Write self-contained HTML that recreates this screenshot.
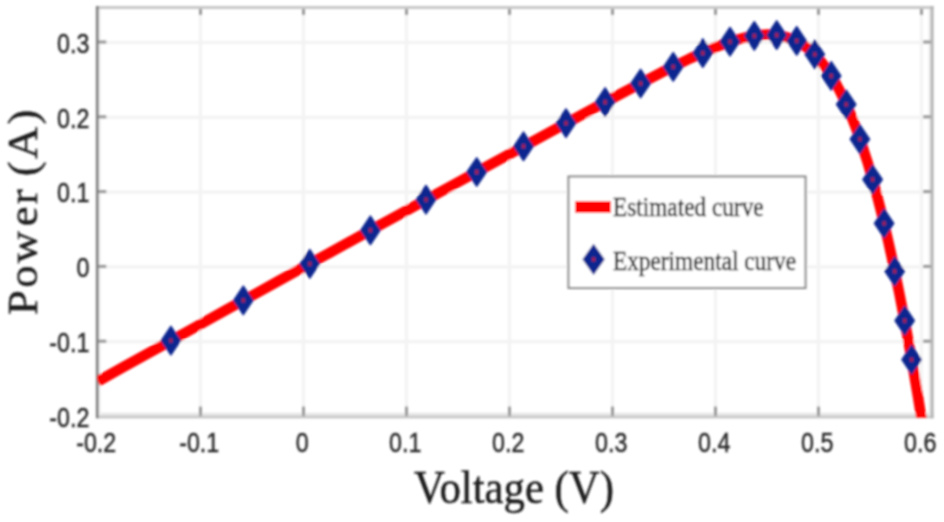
<!DOCTYPE html>
<html><head><meta charset="utf-8"><title>Power-Voltage curve</title>
<style>
html,body{margin:0;padding:0;background:#fff;}
body{width:944px;height:522px;overflow:hidden;position:relative;font-family:"Liberation Sans",sans-serif;}
svg{position:absolute;left:0;top:0;display:block;}
.tk{font-family:"Liberation Sans",sans-serif;font-size:23.3px;fill:#262626;stroke:#262626;stroke-width:0.35px;}
.ax{font-family:"Liberation Serif",serif;font-size:42.8px;fill:#1c1c1c;stroke:#1c1c1c;stroke-width:0.4px;}
.lg{font-family:"Liberation Serif",serif;font-size:23.3px;fill:#141414;stroke:#141414;stroke-width:0.35px;}
</style></head><body>
<svg width="944" height="522" viewBox="0 0 944 522">
<defs><clipPath id="cp"><rect x="97.3" y="7.5" width="834.8" height="410.5"/></clipPath>
<filter id="bl" x="-5%" y="-5%" width="110%" height="110%"><feGaussianBlur stdDeviation="0.8"/></filter></defs>
<rect x="0" y="0" width="944" height="522" fill="#ffffff"/>
<g filter="url(#bl)">

<g stroke="#f3f3f3" stroke-width="3.2" fill="none">
<line x1="200.5" y1="7.5" x2="200.5" y2="416.0"/>
<line x1="303.5" y1="7.5" x2="303.5" y2="416.0"/>
<line x1="406.5" y1="7.5" x2="406.5" y2="416.0"/>
<line x1="509.5" y1="7.5" x2="509.5" y2="416.0"/>
<line x1="612.5" y1="7.5" x2="612.5" y2="416.0"/>
<line x1="715.5" y1="7.5" x2="715.5" y2="416.0"/>
<line x1="818.5" y1="7.5" x2="818.5" y2="416.0"/>
<line x1="921.5" y1="7.5" x2="921.5" y2="416.0"/>
<line x1="97.3" y1="341.7" x2="932.1" y2="341.7"/>
<line x1="97.3" y1="266.9" x2="932.1" y2="266.9"/>
<line x1="97.3" y1="192.1" x2="932.1" y2="192.1"/>
<line x1="97.3" y1="117.3" x2="932.1" y2="117.3"/>
<line x1="97.3" y1="42.5" x2="932.1" y2="42.5"/>
</g>
<rect x="97.3" y="412.8" width="836.3000000000001" height="3.4" fill="#e6e6e6"/>
<rect x="98.7" y="7.5" width="2" height="408.5" fill="#f0f0f0"/>
<rect x="928.6" y="7.5" width="2.2" height="408.5" fill="#ececec"/>
<g stroke="#989898" stroke-width="3">
<line x1="200.5" y1="416.0" x2="200.5" y2="406.5"/>
<line x1="200.5" y1="7.5" x2="200.5" y2="15.0"/>
<line x1="303.5" y1="416.0" x2="303.5" y2="406.5"/>
<line x1="303.5" y1="7.5" x2="303.5" y2="15.0"/>
<line x1="406.5" y1="416.0" x2="406.5" y2="406.5"/>
<line x1="406.5" y1="7.5" x2="406.5" y2="15.0"/>
<line x1="509.5" y1="416.0" x2="509.5" y2="406.5"/>
<line x1="509.5" y1="7.5" x2="509.5" y2="15.0"/>
<line x1="612.5" y1="416.0" x2="612.5" y2="406.5"/>
<line x1="612.5" y1="7.5" x2="612.5" y2="15.0"/>
<line x1="715.5" y1="416.0" x2="715.5" y2="406.5"/>
<line x1="715.5" y1="7.5" x2="715.5" y2="15.0"/>
<line x1="818.5" y1="416.0" x2="818.5" y2="406.5"/>
<line x1="818.5" y1="7.5" x2="818.5" y2="15.0"/>
<line x1="921.5" y1="416.0" x2="921.5" y2="406.5"/>
<line x1="921.5" y1="7.5" x2="921.5" y2="15.0"/>
<line x1="97.3" y1="341.2" x2="106.3" y2="341.2"/>
<line x1="932.1" y1="341.2" x2="923.1" y2="341.2"/>
<line x1="97.3" y1="266.4" x2="106.3" y2="266.4"/>
<line x1="932.1" y1="266.4" x2="923.1" y2="266.4"/>
<line x1="97.3" y1="191.6" x2="106.3" y2="191.6"/>
<line x1="932.1" y1="191.6" x2="923.1" y2="191.6"/>
<line x1="97.3" y1="116.8" x2="106.3" y2="116.8"/>
<line x1="932.1" y1="116.8" x2="923.1" y2="116.8"/>
<line x1="97.3" y1="42.0" x2="106.3" y2="42.0"/>
<line x1="932.1" y1="42.0" x2="923.1" y2="42.0"/>
</g>
<rect x="95.89999999999999" y="415.9" width="837.7" height="2.4" fill="#c4c4c4"/>
<line x1="95.89999999999999" y1="7.5" x2="933.6" y2="7.5" stroke="#c8c8c8" stroke-width="3"/>
<line x1="932.1" y1="6.0" x2="932.1" y2="418.2" stroke="#b4b4b4" stroke-width="3"/>
<line x1="97.3" y1="6.0" x2="97.3" y2="418.2" stroke="#808080" stroke-width="2.8"/>
<g clip-path="url(#cp)"><g transform="translate(0.4,0.6)"><path d="M97.5,380.7 L123.2,366.3 L149.0,352.0 L174.8,337.7 L200.5,323.4 L226.2,309.1 L252.0,294.9 L277.8,280.6 L303.5,266.4 L329.2,252.2 L355.0,238.0 L380.8,223.8 L406.5,209.7 L432.3,195.5 L458.0,181.4 L483.8,167.3 L509.5,153.2 L535.3,139.2 L561.0,125.2 L586.8,111.2 L612.5,97.4 L638.3,83.7 L664.0,70.4 L689.8,57.8 L715.5,46.5 L717.3,45.8 L719.1,45.1 L721.0,44.4 L722.8,43.7 L724.6,43.0 L726.4,42.4 L728.2,41.8 L730.0,41.2 L731.9,40.6 L733.7,40.0 L735.5,39.4 L737.3,38.9 L739.1,38.4 L740.9,37.9 L742.8,37.4 L744.6,37.0 L746.4,36.6 L748.2,36.2 L750.0,35.8 L751.9,35.5 L753.7,35.2 L755.5,34.9 L757.3,34.7 L759.1,34.5 L760.9,34.3 L762.8,34.2 L764.6,34.1 L766.4,34.0 L768.2,34.0 L770.0,34.1 L771.8,34.2 L773.7,34.3 L775.5,34.5 L777.3,34.7 L779.1,35.0 L780.9,35.3 L782.8,35.7 L784.6,36.2 L786.4,36.7 L788.2,37.3 L790.0,37.9 L791.8,38.6 L793.7,39.4 L795.5,40.3 L797.3,41.2 L799.1,42.2 L800.9,43.3 L802.7,44.5 L804.6,45.7 L806.4,47.1 L808.2,48.5 L810.0,50.1 L811.8,51.7 L813.7,53.4 L815.5,55.3 L817.3,57.2 L819.1,59.3 L820.9,61.4 L822.7,63.7 L824.6,66.1 L826.4,68.6 L828.2,71.2 L830.0,74.0 L831.8,76.9 L833.6,79.9 L835.5,83.0 L837.3,86.3 L839.1,89.7 L840.9,93.3 L842.7,97.0 L844.6,100.8 L846.4,104.8 L848.2,109.0 L850.0,113.3 L851.8,117.8 L853.6,122.4 L855.5,127.1 L857.3,132.1 L859.1,137.2 L860.9,142.4 L862.7,147.9 L864.5,153.5 L866.4,159.2 L868.2,165.2 L870.0,171.3 L871.8,177.6 L873.6,184.1 L875.5,190.7 L877.3,197.5 L879.1,204.5 L880.9,211.7 L882.7,219.1 L884.5,226.6 L886.4,234.4 L888.2,242.3 L890.0,250.4 L891.8,258.7 L893.6,267.2 L895.4,275.8 L897.3,284.7 L899.1,293.7 L900.9,302.9 L902.7,312.3 L904.5,321.9 L906.4,331.7 L908.2,341.7 L910.0,351.9 L911.8,362.2 L913.6,372.7 L915.4,383.5 L917.3,394.4 L919.1,405.5 L920.9,416.7 L922.7,428.2 L924.5,439.9 L926.3,451.7" fill="none" stroke="#ff0000" stroke-width="10.5" stroke-linejoin="round"/>
<path d="M170.5,325.8 L180.1,340.0 L170.5,354.2 L160.9,340.0 Z" fill="#10268f" stroke="#10268f" stroke-width="1.5" stroke-linejoin="round"/><rect x="169.0" y="338.0" width="3" height="4" fill="#a8204c"/>
<path d="M242.9,285.6 L252.5,299.8 L242.9,314.0 L233.3,299.8 Z" fill="#10268f" stroke="#10268f" stroke-width="1.5" stroke-linejoin="round"/><rect x="241.4" y="297.8" width="3" height="4" fill="#a8204c"/>
<path d="M309.4,249.0 L319.0,263.2 L309.4,277.4 L299.8,263.2 Z" fill="#10268f" stroke="#10268f" stroke-width="1.5" stroke-linejoin="round"/><rect x="307.9" y="261.2" width="3" height="4" fill="#a8204c"/>
<path d="M370.0,215.5 L379.6,229.7 L370.0,243.9 L360.4,229.7 Z" fill="#10268f" stroke="#10268f" stroke-width="1.5" stroke-linejoin="round"/><rect x="368.5" y="227.7" width="3" height="4" fill="#a8204c"/>
<path d="M425.6,184.9 L435.2,199.1 L425.6,213.3 L416.0,199.1 Z" fill="#10268f" stroke="#10268f" stroke-width="1.5" stroke-linejoin="round"/><rect x="424.1" y="197.1" width="3" height="4" fill="#a8204c"/>
<path d="M476.3,157.2 L485.9,171.4 L476.3,185.6 L466.7,171.4 Z" fill="#10268f" stroke="#10268f" stroke-width="1.5" stroke-linejoin="round"/><rect x="474.8" y="169.4" width="3" height="4" fill="#a8204c"/>
<path d="M523.1,131.5 L532.7,145.7 L523.1,159.9 L513.5,145.7 Z" fill="#10268f" stroke="#10268f" stroke-width="1.5" stroke-linejoin="round"/><rect x="521.6" y="143.7" width="3" height="4" fill="#a8204c"/>
<path d="M565.6,108.4 L575.2,122.6 L565.6,136.8 L556.0,122.6 Z" fill="#10268f" stroke="#10268f" stroke-width="1.5" stroke-linejoin="round"/><rect x="564.1" y="120.6" width="3" height="4" fill="#a8204c"/>
<path d="M604.7,87.3 L614.3,101.5 L604.7,115.7 L595.1,101.5 Z" fill="#10268f" stroke="#10268f" stroke-width="1.5" stroke-linejoin="round"/><rect x="603.2" y="99.5" width="3" height="4" fill="#a8204c"/>
<path d="M640.2,68.7 L649.8,82.9 L640.2,97.1 L630.6,82.9 Z" fill="#10268f" stroke="#10268f" stroke-width="1.5" stroke-linejoin="round"/><rect x="638.7" y="80.9" width="3" height="4" fill="#a8204c"/>
<path d="M672.8,52.0 L682.4,66.2 L672.8,80.4 L663.2,66.2 Z" fill="#10268f" stroke="#10268f" stroke-width="1.5" stroke-linejoin="round"/><rect x="671.3" y="64.2" width="3" height="4" fill="#a8204c"/>
<path d="M702.4,38.3 L712.0,52.5 L702.4,66.7 L692.8,52.5 Z" fill="#10268f" stroke="#10268f" stroke-width="1.5" stroke-linejoin="round"/><rect x="700.9" y="50.5" width="3" height="4" fill="#a8204c"/>
<path d="M729.6,26.9 L739.2,41.1 L729.6,55.3 L720.0,41.1 Z" fill="#10268f" stroke="#10268f" stroke-width="1.5" stroke-linejoin="round"/><rect x="728.1" y="39.1" width="3" height="4" fill="#a8204c"/>
<path d="M753.9,21.1 L763.5,35.3 L753.9,49.5 L744.3,35.3 Z" fill="#10268f" stroke="#10268f" stroke-width="1.5" stroke-linejoin="round"/><rect x="752.4" y="33.3" width="3" height="4" fill="#a8204c"/>
<path d="M776.3,20.3 L785.9,34.5 L776.3,48.7 L766.7,34.5 Z" fill="#10268f" stroke="#10268f" stroke-width="1.5" stroke-linejoin="round"/><rect x="774.8" y="32.5" width="3" height="4" fill="#a8204c"/>
<path d="M796.3,26.0 L805.9,40.2 L796.3,54.4 L786.7,40.2 Z" fill="#10268f" stroke="#10268f" stroke-width="1.5" stroke-linejoin="round"/><rect x="794.8" y="38.2" width="3" height="4" fill="#a8204c"/>
<path d="M814.4,39.6 L824.0,53.8 L814.4,68.0 L804.8,53.8 Z" fill="#10268f" stroke="#10268f" stroke-width="1.5" stroke-linejoin="round"/><rect x="812.9" y="51.8" width="3" height="4" fill="#a8204c"/>
<path d="M830.8,61.1 L840.4,75.3 L830.8,89.5 L821.2,75.3 Z" fill="#10268f" stroke="#10268f" stroke-width="1.5" stroke-linejoin="round"/><rect x="829.3" y="73.3" width="3" height="4" fill="#a8204c"/>
<path d="M845.8,89.6 L855.4,103.8 L845.8,118.0 L836.2,103.8 Z" fill="#10268f" stroke="#10268f" stroke-width="1.5" stroke-linejoin="round"/><rect x="844.3" y="101.8" width="3" height="4" fill="#a8204c"/>
<path d="M859.5,124.4 L869.1,138.6 L859.5,152.8 L849.9,138.6 Z" fill="#10268f" stroke="#10268f" stroke-width="1.5" stroke-linejoin="round"/><rect x="858.0" y="136.6" width="3" height="4" fill="#a8204c"/>
<path d="M872.2,164.7 L881.8,178.9 L872.2,193.1 L862.6,178.9 Z" fill="#10268f" stroke="#10268f" stroke-width="1.5" stroke-linejoin="round"/><rect x="870.7" y="176.9" width="3" height="4" fill="#a8204c"/>
<path d="M883.7,208.6 L893.3,222.8 L883.7,237.0 L874.1,222.8 Z" fill="#10268f" stroke="#10268f" stroke-width="1.5" stroke-linejoin="round"/><rect x="882.2" y="220.8" width="3" height="4" fill="#a8204c"/>
<path d="M894.3,256.5 L903.9,270.7 L894.3,284.9 L884.7,270.7 Z" fill="#10268f" stroke="#10268f" stroke-width="1.5" stroke-linejoin="round"/><rect x="892.8" y="268.7" width="3" height="4" fill="#a8204c"/>
<path d="M904.3,305.9 L913.9,320.1 L904.3,334.3 L894.7,320.1 Z" fill="#10268f" stroke="#10268f" stroke-width="1.5" stroke-linejoin="round"/><rect x="902.8" y="318.1" width="3" height="4" fill="#a8204c"/>
<path d="M911.2,344.9 L920.8,359.1 L911.2,373.3 L901.6,359.1 Z" fill="#10268f" stroke="#10268f" stroke-width="1.5" stroke-linejoin="round"/><rect x="909.7" y="357.1" width="3" height="4" fill="#a8204c"/>
</g></g>
<rect x="568.5" y="176.5" width="237" height="111.5" fill="#ffffff" stroke="#858585" stroke-width="2"/>
<rect x="575" y="201" width="36" height="12" fill="#ff0000"/>
<path d="M593.6,244.9 L603.9,259.4 L593.6,273.9 L583.3,259.4 Z" fill="#10268f" stroke="#10268f" stroke-width="1.5" stroke-linejoin="round"/><rect x="592.1" y="257.4" width="3" height="4" fill="#a8204c"/>
<text class="lg" transform="translate(613,215.8) scale(1,1.15)">Estimated curve</text>
<text class="lg" transform="translate(613,270.2) scale(1,1.15)">Experimental curve</text>
<text class="tk" transform="translate(96.2,452.3) scale(1,1.2)" text-anchor="middle">-0.2</text>
<text class="tk" transform="translate(199.2,452.3) scale(1,1.2)" text-anchor="middle">-0.1</text>
<text class="tk" transform="translate(302.2,452.3) scale(1,1.2)" text-anchor="middle">0</text>
<text class="tk" transform="translate(405.2,452.3) scale(1,1.2)" text-anchor="middle">0.1</text>
<text class="tk" transform="translate(508.2,452.3) scale(1,1.2)" text-anchor="middle">0.2</text>
<text class="tk" transform="translate(611.2,452.3) scale(1,1.2)" text-anchor="middle">0.3</text>
<text class="tk" transform="translate(714.2,452.3) scale(1,1.2)" text-anchor="middle">0.4</text>
<text class="tk" transform="translate(817.2,452.3) scale(1,1.2)" text-anchor="middle">0.5</text>
<text class="tk" transform="translate(920.2,452.3) scale(1,1.2)" text-anchor="middle">0.6</text>
<text class="tk" transform="translate(89.5,426.8) scale(1,1.2)" text-anchor="end">-0.2</text>
<text class="tk" transform="translate(89.5,352.0) scale(1,1.2)" text-anchor="end">-0.1</text>
<text class="tk" transform="translate(89.5,277.2) scale(1,1.2)" text-anchor="end">0</text>
<text class="tk" transform="translate(89.5,202.4) scale(1,1.2)" text-anchor="end">0.1</text>
<text class="tk" transform="translate(89.5,127.6) scale(1,1.2)" text-anchor="end">0.2</text>
<text class="tk" transform="translate(89.5,52.8) scale(1,1.2)" text-anchor="end">0.3</text>
<text class="ax" transform="translate(514,503.5) scale(1,1.09)" text-anchor="middle">Voltage (V)</text>
<text class="ax" style="font-size:42.4px" transform="translate(36.5,211.2) rotate(-90) scale(1.05,1)" text-anchor="middle" letter-spacing="2.2">Pow<tspan dx="2.4">er</tspan><tspan dx="-2.4"> (A)</tspan></text>
</g></svg></body></html>
